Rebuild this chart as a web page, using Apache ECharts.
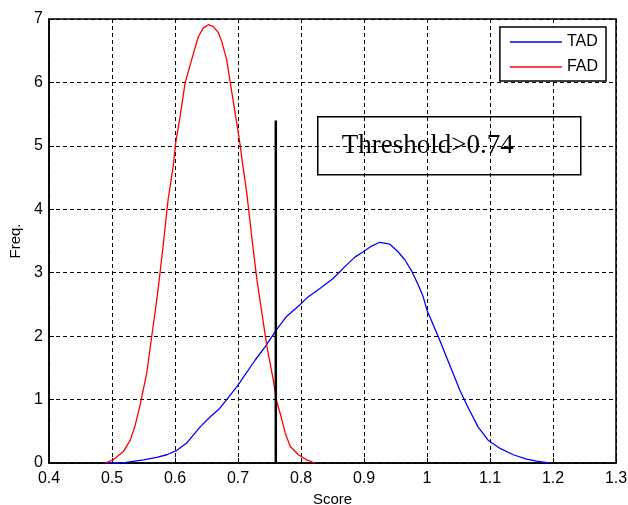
<!DOCTYPE html>
<html>
<head>
<meta charset="utf-8">
<script src="https://cdn.jsdelivr.net/npm/echarts@6/dist/echarts.min.js"></script>
<style>html,body{margin:0;padding:0;background:#fff;}#c{width:628px;height:505px;}</style>
</head>
<body>
<div id="c"></div>
<script>
const xTicks = [0.4, 1.3, 0.1];
const yTicks = [0, 7, 1];
const tadX = [0.49,0.522,0.55,0.571,0.587,0.603,0.618,0.64,0.656,0.671,0.698,0.727,0.743,0.761,0.777,0.798,0.809,0.830,0.851,0.870,0.886,0.899,0.912,0.925,0.941,0.954,0.965,0.976,0.986,0.994,1.0,1.018,1.037,1.052,1.066,1.081,1.097,1.116,1.137,1.158,1.174,1.193];
const tadY = [0,0.01,0.05,0.09,0.13,0.2,0.31,0.57,0.73,0.86,1.2,1.62,1.83,2.1,2.31,2.49,2.6,2.75,2.91,3.1,3.25,3.33,3.42,3.48,3.45,3.33,3.2,3.02,2.81,2.62,2.41,1.99,1.52,1.15,0.86,0.57,0.36,0.23,0.13,0.06,0.03,0];
const fadX = [0.489,0.502,0.518,0.529,0.537,0.544,0.555,0.563,0.571,0.575,0.582,0.589,0.597,0.601,0.608,0.616,0.627,0.637,0.645,0.653,0.661,0.669,0.674,0.682,0.687,0.693,0.699,0.703,0.708,0.714,0.722,0.730,0.738,0.746,0.756,0.761,0.767,0.775,0.783,0.796,0.809,0.822];
const fadY = [0,0.05,0.18,0.36,0.6,0.89,1.41,1.99,2.57,2.89,3.5,4.15,4.67,5.04,5.46,5.99,6.38,6.72,6.86,6.91,6.88,6.78,6.65,6.36,6.04,5.67,5.3,5.04,4.67,4.25,3.55,2.89,2.36,1.83,1.31,0.99,0.78,0.47,0.26,0.13,0.05,0];
const thresholdX = [0.76, 0.76];
const thresholdY = [0, 5.4];
const seriesNames = ['TAD', 'FAD'];
const annotationText = 'Threshold>0.74';

const pairs = (xs, ys) => xs.map((x, i) => [x, ys[i]]);
const font = 'Liberation Sans, Arial, Helvetica, sans-serif';
const chart = echarts.init(document.getElementById('c'), null, {renderer: 'canvas'});
chart.setOption({
  animation: false,
  backgroundColor: '#fff',
  grid: {left: 49, right: 12, top: 19, bottom: 42, outerBoundsMode: 'none', containLabel: false,
    show: true, borderColor: '#000', borderWidth: 1.5, backgroundColor: 'transparent'},
  xAxis: {
    type: 'value', min: xTicks[0], max: xTicks[1], interval: xTicks[2],
    name: 'Score', nameLocation: 'middle', nameGap: 28,
    nameTextStyle: {color: '#000', fontSize: 15, fontFamily: font},
    axisLine: {show: true, lineStyle: {color: '#000', width: 1.5}},
    axisTick: {show: true, inside: true, length: 5, lineStyle: {color: '#000'}},
    axisLabel: {color: '#000', fontSize: 16, fontFamily: font, margin: 8,
      formatter: v => String(+v.toFixed(1))},
    splitLine: {show: true, lineStyle: {color: '#000', type: [4, 3], width: 1}}
  },
  yAxis: {
    type: 'value', min: yTicks[0], max: yTicks[1], interval: yTicks[2],
    name: 'Freq.', nameLocation: 'middle', nameGap: 26,
    nameTextStyle: {color: '#000', fontSize: 15, fontFamily: font},
    axisLine: {show: true, lineStyle: {color: '#000', width: 1.5}},
    axisTick: {show: true, inside: true, length: 5, lineStyle: {color: '#000'}},
    axisLabel: {color: '#000', fontSize: 16, fontFamily: font, margin: 6},
    splitLine: {show: true, lineStyle: {color: '#000', type: [4, 3], width: 1}}
  },
  legend: {
    data: seriesNames.map(n => ({name: n, icon: 'rect'})),
    orient: 'vertical', right: 22, top: 27,
    backgroundColor: '#fff', borderColor: '#000', borderWidth: 1.5,
    padding: [7, 8, 6, 10], itemWidth: 52, itemHeight: 1.5, itemGap: 9,
    textStyle: {color: '#000', fontSize: 16, fontFamily: font}
  },
  series: [
    {name: seriesNames[0], type: 'line', data: pairs(tadX, tadY), symbol: 'none',
     lineStyle: {color: '#0000ff', width: 1.3}, itemStyle: {color: '#0000ff'}},
    {name: seriesNames[1], type: 'line', data: pairs(fadX, fadY), symbol: 'none',
     lineStyle: {color: '#ff0000', width: 1.3}, itemStyle: {color: '#ff0000'}},
    {name: 'threshold', type: 'line', data: pairs(thresholdX, thresholdY), symbol: 'none',
     lineStyle: {color: '#000', width: 2.5}, itemStyle: {color: '#000'}}
  ],
  graphic: [{
    type: 'group', left: 317, top: 116,
    children: [
      {type: 'rect', shape: {x: 0, y: 0, width: 263, height: 58},
       style: {fill: '#fff', stroke: '#000', lineWidth: 1.5}},
      {type: 'text', x: 24, y: 29,
       style: {text: annotationText, fill: '#000', fontSize: 27,
         fontFamily: 'Liberation Serif, Times New Roman, serif', verticalAlign: 'middle'}}
    ]
  }]
});
</script>
</body>
</html>
